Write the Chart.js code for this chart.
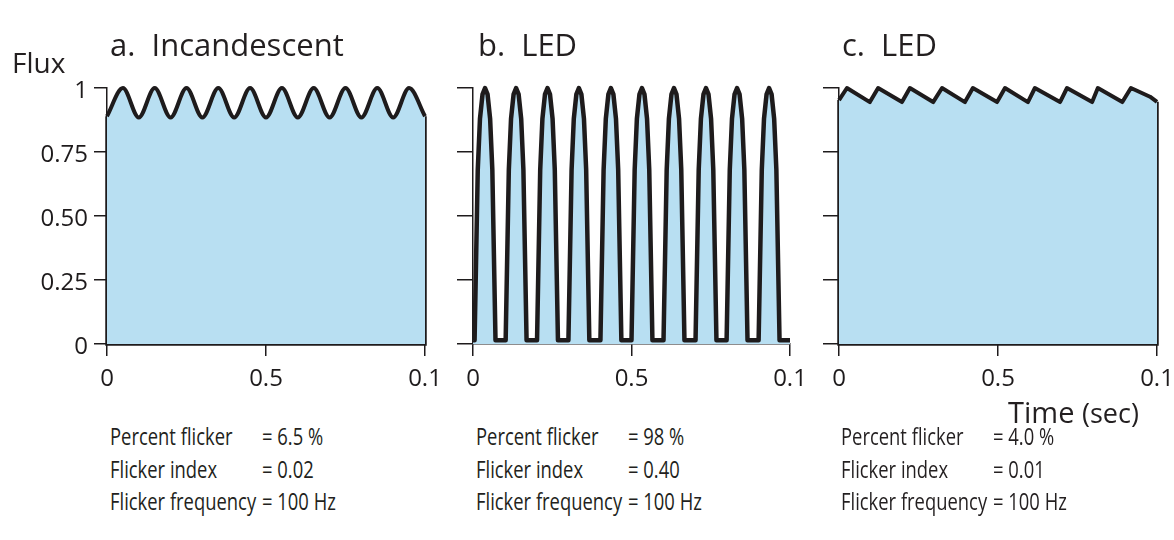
<!DOCTYPE html>
<html>
<head>
<meta charset="utf-8">
<script src="https://cdn.jsdelivr.net/npm/chart.js@4.4.1/dist/chart.umd.min.js"></script>
<style>
  body { margin: 0; background: #fff; font-family: "Open Sans", sans-serif; color: #231f20; }
  #wrap { position: relative; width: 1174px; height: 540px; overflow: hidden; }
  canvas { position: absolute; top: 0; }
  .txt { position: absolute; white-space: nowrap; line-height: 1; }
  .title { font-size: 31px; top: 29px; }
  .row { position: absolute; white-space: nowrap; line-height: 1; font-size: 23px;
         transform: scaleX(0.8); transform-origin: left top; }
  .row .k { display: inline-block; width: 190px; }
</style>
</head>
<body>
<div id="wrap">
  <canvas id="chartA" width="460" height="400" style="left:0px"></canvas>
  <canvas id="chartB" width="380" height="400" style="left:440px"></canvas>
  <canvas id="chartC" width="395" height="400" style="left:805px"></canvas>

  <div class="txt" style="left:12px; top:48px; font-size:28px;">Flux</div>
  <div class="txt title" style="left:110px;">a.&nbsp; Incandescent</div>
  <div class="txt title" style="left:478px;">b.&nbsp; LED</div>
  <div class="txt title" style="left:842px;">c.&nbsp; LED</div>
  <div class="txt" style="left:1008px; top:397px; font-size:29px;">Time <span style="font-size:27px">(sec)</span></div>

  <div id="stats"></div>
</div>

<script>
// time axis (sec) and tick labels, as printed in the figure
const tickValuesX = [0, 0.05, 0.1];
const tickLabelsX = ['0', '0.5', '0.1'];
const tickValuesY = [0, 0.25, 0.5, 0.75, 1];
const tickLabelsY = ['0', '0.25', '0.50', '0.75', '1'];

// a. Incandescent - smooth ripple near the top
const timeA = [0, 0.005, 0.01, 0.015, 0.02, 0.025, 0.03, 0.035, 0.04, 0.045, 0.05,
               0.055, 0.06, 0.065, 0.07, 0.075, 0.08, 0.085, 0.09, 0.095, 0.1];
const fluxA = [0.89, 1, 0.885, 1, 0.885, 1, 0.885, 1, 0.885, 1, 0.885,
               1, 0.885, 1, 0.885, 1, 0.885, 1, 0.885, 1, 0.89];

// b. LED - pulses: peak times and one pulse outline
const peaksB = [0.0038, 0.0136, 0.0235, 0.0334, 0.0435, 0.0533, 0.0634, 0.0735, 0.0833, 0.0934];
const pulseOffsets = [-0.0033, -0.0023, -0.0016, -0.0008, 0, 0.0008, 0.0016, 0.0023, 0.0033];
const pulseLevels = [0.015, 0.68, 0.88, 0.975, 1, 0.975, 0.88, 0.68, 0.015];
const baseB = 0.015;

// c. LED - sawtooth ripple
const timeC = [0, 0.0025, 0.0097, 0.0123, 0.0198, 0.0223, 0.0296, 0.0324, 0.0396, 0.0421, 0.0497,
               0.0522, 0.0594, 0.0616, 0.0695, 0.0717, 0.0796, 0.0814, 0.0891, 0.0918, 0.0978, 0.1];
const fluxC = [0.953, 1, 0.945, 1, 0.945, 1, 0.945, 1, 0.945, 1, 0.945,
               1, 0.945, 1, 0.945, 1, 0.945, 1, 0.945, 1, 0.966, 0.946];

// text under each panel
const statLabels = ['Percent flicker', 'Flicker index', 'Flicker frequency'];
const statsA = ['= 6.5 %', '= 0.02', '= 100 Hz'];
const statsB = ['= 98 %', '= 0.40', '= 100 Hz'];
const statsC = ['= 4.0 %', '= 0.01', '= 100 Hz'];

const INK = '#1e1b1c';
const FILL = '#b8dff2';

function toPoints(xs, ys) {
  return xs.map((x, i) => ({ x: x, y: ys[i] }));
}

function pulsePoints() {
  const pts = [{ x: 0, y: baseB }];
  peaksB.forEach(p => {
    pulseOffsets.forEach((o, i) => pts.push({ x: p + o, y: pulseLevels[i] }));
  });
  pts.push({ x: 0.1, y: baseB });
  return pts;
}

function edgeSet(xs, ys) {
  const n = xs.length - 1;
  return {
    data: [{ x: xs[0], y: ys[0] }, { x: xs[0], y: 0 }, { x: xs[n], y: 0 }, { x: xs[n], y: ys[n] }],
    borderColor: INK, borderWidth: 3.5, pointRadius: 0, fill: false, tension: 0,
    borderJoinStyle: 'miter', clip: false
  };
}

function makePanel(id, left, width, plotLeft, plotRight, tickLen, yLabels, datasets) {
  new Chart(document.getElementById(id), {
    type: 'line',
    data: { datasets: datasets },
    options: {
      responsive: false,
      animation: false,
      layout: { padding: { left: 0, top: 88, bottom: 0, right: left + width - plotRight } },
      plugins: { legend: { display: false }, tooltip: { enabled: false } },
      scales: {
        x: {
          type: 'linear', min: 0, max: 0.1,
          afterBuildTicks: ax => { ax.ticks = tickValuesX.map(v => ({ value: v })); },
          afterFit: s => { s.height = 56; },
          ticks: {
            callback: (v, i) => tickLabelsX[i], autoSkip: false, maxRotation: 0,
            font: { family: 'Open Sans', size: 24 }, color: INK, padding: 9
          },
          grid: { drawOnChartArea: false, tickLength: 12, color: INK, lineWidth: 1.5 },
          border: { display: true, color: INK, width: 1.5 }
        },
        y: {
          type: 'linear', min: 0, max: 1,
          afterBuildTicks: ax => { ax.ticks = tickValuesY.map(v => ({ value: v })); },
          afterFit: s => { s.width = plotLeft - left; },
          ticks: {
            callback: (v, i) => yLabels[i], autoSkip: false, labelOffset: 3,
            font: { family: 'Open Sans', size: 24 }, color: INK, padding: 6
          },
          grid: { drawOnChartArea: false, tickLength: tickLen, color: INK, lineWidth: 1.5 },
          border: { display: true, color: INK, width: 1.5 }
        }
      }
    }
  });
}

const blank = tickLabelsY.map(() => '');

makePanel('chartA', 0, 460, 107, 425, 13, tickLabelsY, [
  { data: toPoints(timeA, fluxA), borderColor: INK, borderWidth: 4, backgroundColor: FILL,
    fill: 'origin', pointRadius: 0, cubicInterpolationMode: 'monotone', clip: false },
  edgeSet(timeA, fluxA)
]);

makePanel('chartB', 440, 380, 473, 790, 16, blank, [
  { data: pulsePoints(), borderColor: INK, borderWidth: 4.5, backgroundColor: FILL,
    fill: 'origin', pointRadius: 0, tension: 0, borderJoinStyle: 'round', clip: false }
]);

makePanel('chartC', 805, 395, 839, 1157, 16, blank, [
  { data: toPoints(timeC, fluxC), borderColor: INK, borderWidth: 4, backgroundColor: FILL,
    fill: 'origin', pointRadius: 0, tension: 0, borderJoinStyle: 'round', clip: false },
  edgeSet(timeC, fluxC)
]);

// stats blocks
const stats = document.getElementById('stats');
[[110, statsA], [476, statsB], [841, statsC]].forEach(([x, vals]) => {
  statLabels.forEach((lab, i) => {
    const row = document.createElement('div');
    row.className = 'row';
    row.style.left = x + 'px';
    row.style.top = (425 + i * 32.5) + 'px';
    row.innerHTML = '<span class="k">' + lab + '</span>' + vals[i];
    stats.appendChild(row);
  });
});
</script>
</body>
</html>
